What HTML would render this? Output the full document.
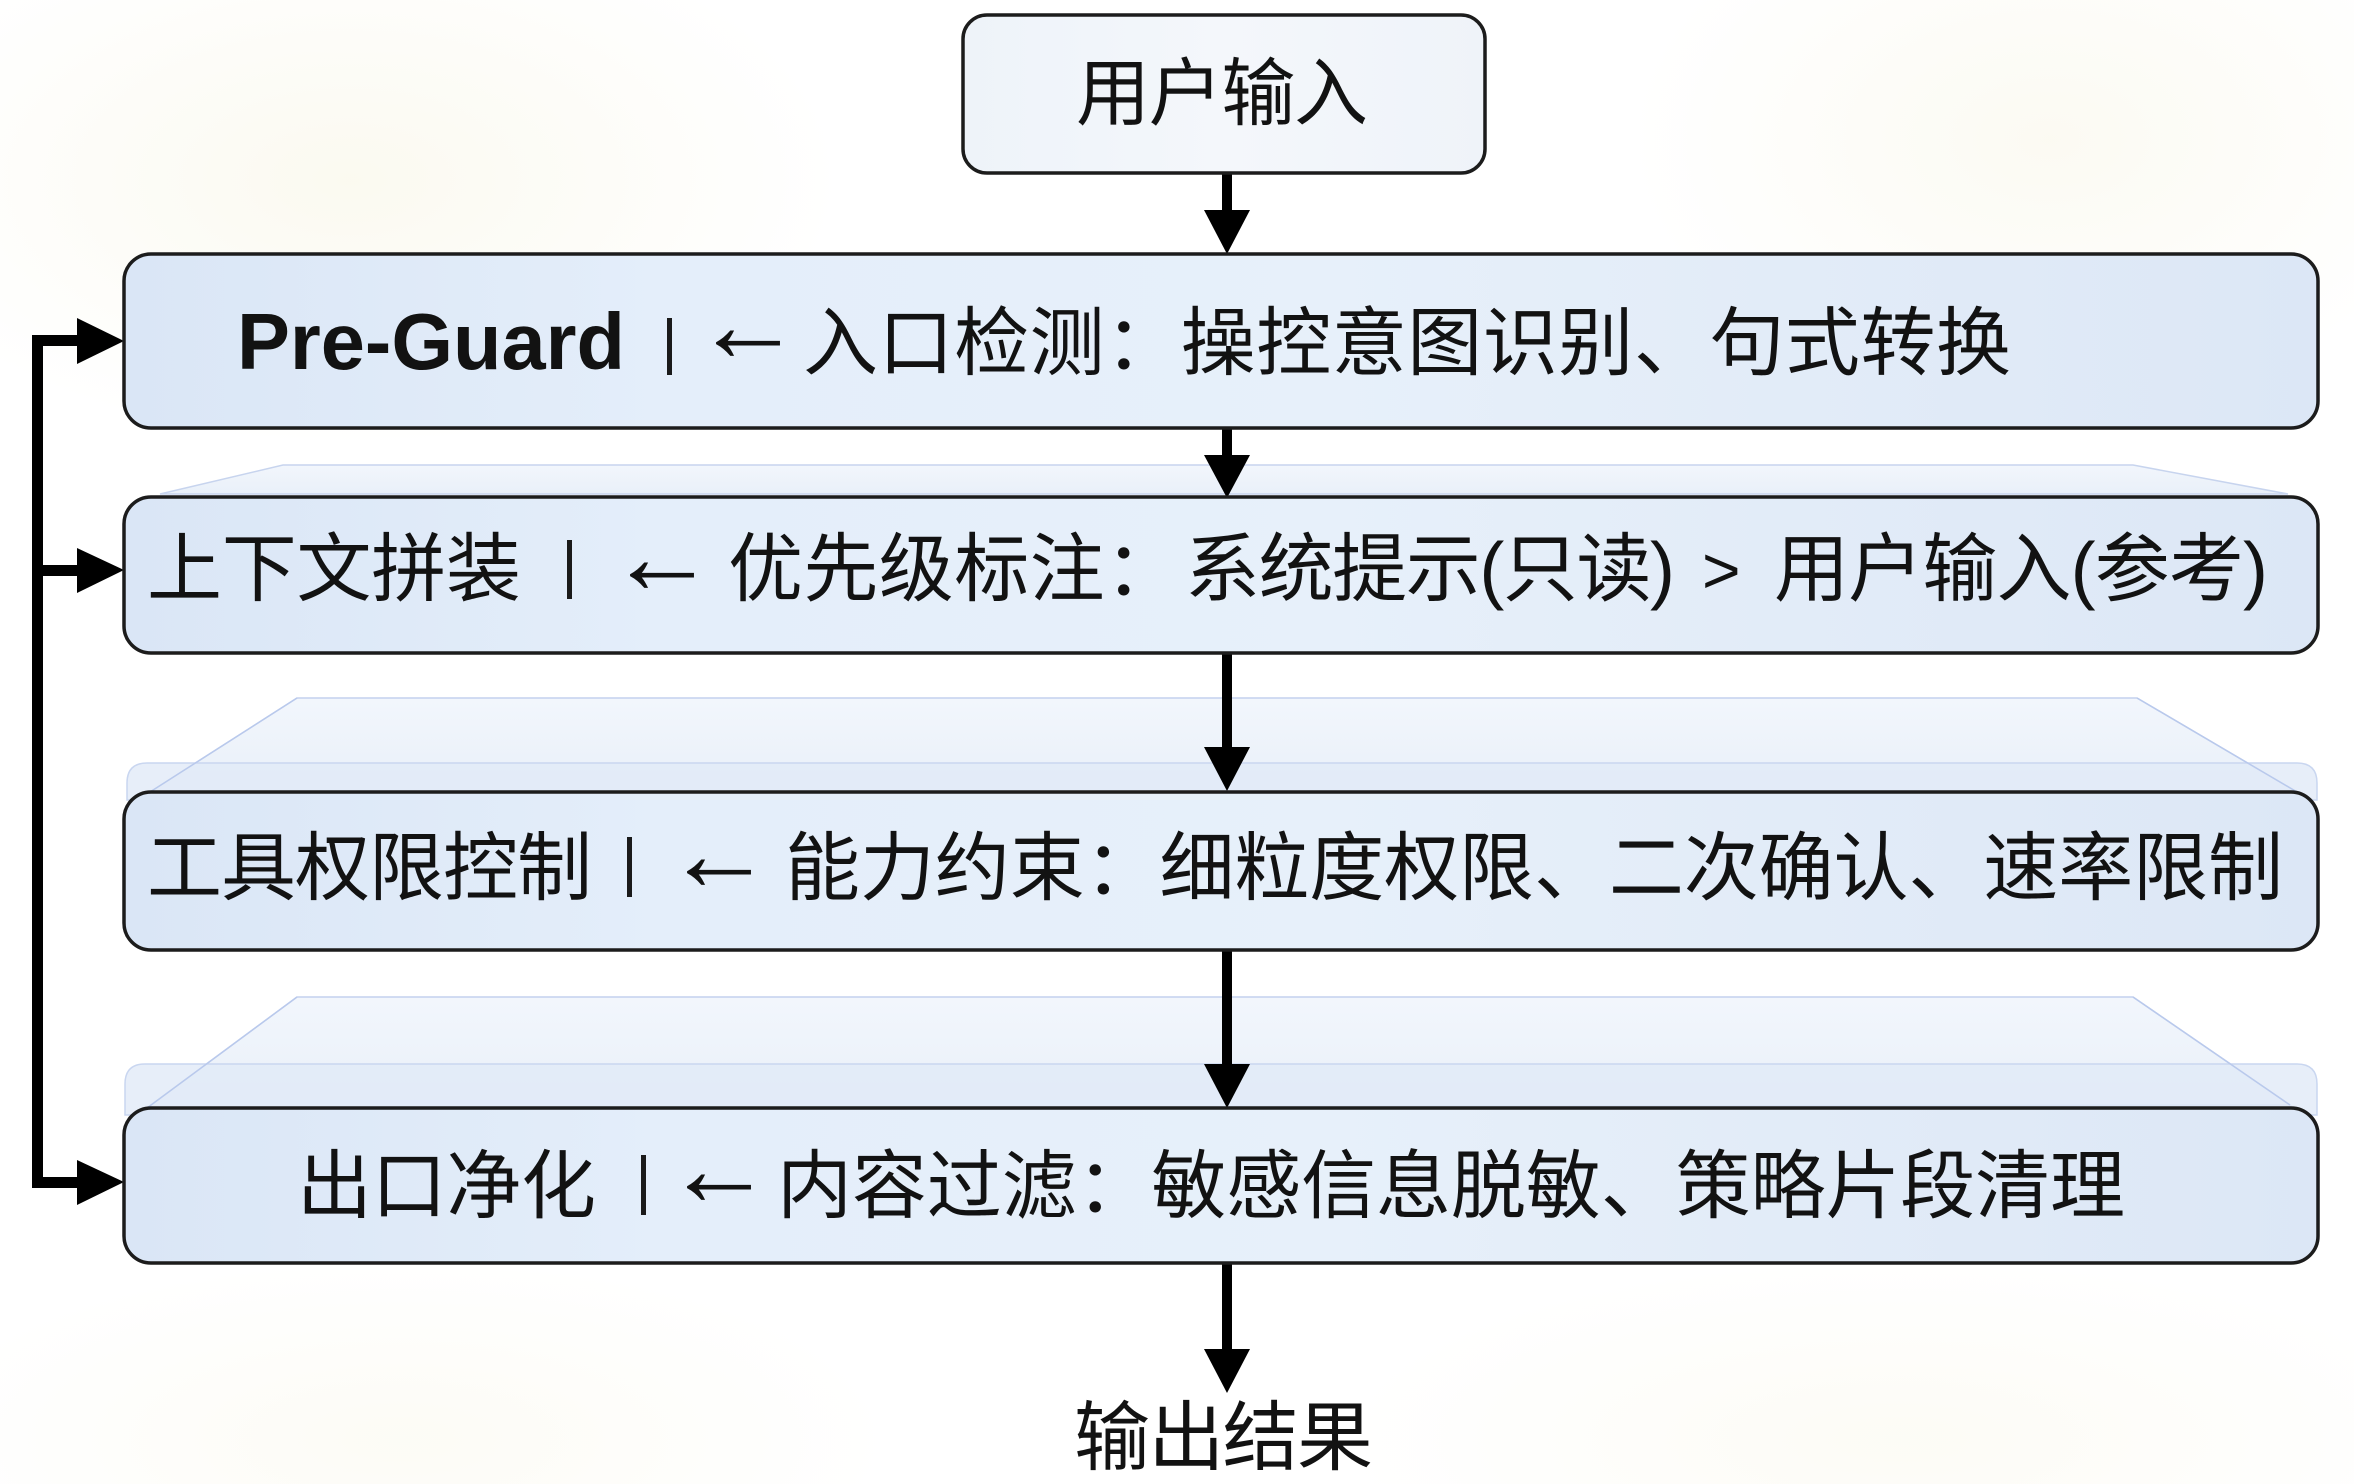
<!DOCTYPE html>
<html>
<head>
<meta charset="utf-8">
<style>
  html, body { margin:0; padding:0; }
  body {
    width:2354px; height:1484px; overflow:hidden;
    background:
      radial-gradient(ellipse 700px 380px at 350px 180px, rgba(249,247,234,0.7), rgba(255,255,255,0) 70%),
      radial-gradient(ellipse 600px 380px at 2050px 140px, rgba(249,247,234,0.6), rgba(255,255,255,0) 70%),
      radial-gradient(ellipse 700px 260px at 400px 1440px, rgba(250,248,236,0.5), rgba(255,255,255,0) 70%),
      radial-gradient(ellipse 800px 260px at 1900px 1440px, rgba(250,248,236,0.5), rgba(255,255,255,0) 70%),
      #ffffff;
  }
  svg { position:absolute; left:0; top:0; }
  text { font-family:"Liberation Sans","Noto Sans CJK SC",sans-serif; fill:#121212; }
  .arr { font-family:"Liberation Sans","DejaVu Sans","Noto Sans CJK SC",sans-serif; }
</style>
</head>
<body>
<svg width="2354" height="1484" viewBox="0 0 2354 1484" xmlns="http://www.w3.org/2000/svg">
  <defs>
    <linearGradient id="boxg" x1="0" y1="0" x2="1" y2="0">
      <stop offset="0" stop-color="#dae6f6"/>
      <stop offset="0.25" stop-color="#e4eefa"/>
      <stop offset="0.55" stop-color="#e7f0fa"/>
      <stop offset="0.85" stop-color="#e0eaf7"/>
      <stop offset="1" stop-color="#dce7f6"/>
    </linearGradient>
    <linearGradient id="topg" x1="0" y1="0" x2="1" y2="0">
      <stop offset="0" stop-color="#eef3f9"/>
      <stop offset="0.5" stop-color="#f4f7fb"/>
      <stop offset="1" stop-color="#eff3f9"/>
    </linearGradient>
    <linearGradient id="ghostg" x1="0" y1="0" x2="0" y2="1">
      <stop offset="0" stop-color="#f2f6fc"/>
      <stop offset="1" stop-color="#e9f0f9"/>
    </linearGradient>
  </defs>

  <!-- ghost layers -->
  <polygon points="160,494 283,465 2133,465 2288,494" fill="url(#ghostg)" stroke="#c7d4ee" stroke-width="1.5"/>

  <polygon points="150,792 297,698 2137,698 2297,792" fill="url(#ghostg)" stroke="#c3d1ee" stroke-width="1.5"/>
  <path d="M127,800 L127,783 Q127,763 147,763 L2297,763 Q2317,763 2317,783 L2317,800 Z" fill="#e1eaf8" fill-opacity="0.8" stroke="#c9d6f0" stroke-width="1.5"/>
  <line x1="150" y1="792" x2="297" y2="698" stroke="#b9c9ec" stroke-width="1.5"/>
  <line x1="2297" y1="792" x2="2137" y2="698" stroke="#b9c9ec" stroke-width="1.5"/>

  <polygon points="147,1108 297,997 2133,997 2290,1105" fill="url(#ghostg)" stroke="#c3d1ee" stroke-width="1.5"/>
  <path d="M125,1115 L125,1084 Q125,1064 145,1064 L2297,1064 Q2317,1064 2317,1084 L2317,1115 Z" fill="#e1eaf8" fill-opacity="0.8" stroke="#c9d6f0" stroke-width="1.5"/>
  <line x1="147" y1="1108" x2="297" y2="997" stroke="#b9c9ec" stroke-width="1.5"/>
  <line x1="2290" y1="1105" x2="2133" y2="997" stroke="#b9c9ec" stroke-width="1.5"/>

  <!-- vertical arrows -->
  <g fill="#000" stroke="none">
    <rect x="1222" y="172" width="10" height="42"/>
    <polygon points="1204,210 1250,210 1227,254"/>
    <rect x="1222" y="427" width="10" height="32"/>
    <polygon points="1204,455 1250,455 1227,498"/>
    <rect x="1222" y="652" width="10" height="100"/>
    <polygon points="1204,747 1250,747 1227,791"/>
    <rect x="1222" y="949" width="10" height="120"/>
    <polygon points="1204,1064 1250,1064 1227,1108"/>
    <rect x="1222" y="1262" width="10" height="92"/>
    <polygon points="1204,1349 1250,1349 1227,1393"/>
  </g>

  <!-- feedback connector -->
  <g fill="#000">
    <rect x="32" y="335" width="11" height="853"/>
    <rect x="32" y="335" width="52" height="11"/>
    <polygon points="77,318 124,341 77,364"/>
    <rect x="32" y="565" width="52" height="11"/>
    <polygon points="77,548 124,570 77,593"/>
    <rect x="32" y="1177" width="52" height="11"/>
    <polygon points="77,1160 124,1182 77,1205"/>
  </g>

  <!-- boxes -->
  <rect x="963" y="15" width="522" height="158" rx="24" ry="24" fill="url(#topg)" stroke="#1c1c1c" stroke-width="3.5"/>
  <rect x="124" y="254" width="2194" height="174" rx="27" ry="27" fill="url(#boxg)" stroke="#1c1c1c" stroke-width="3.5"/>
  <rect x="124" y="497" width="2194" height="156" rx="27" ry="27" fill="url(#boxg)" stroke="#1c1c1c" stroke-width="3.5"/>
  <rect x="124" y="792" width="2194" height="158" rx="27" ry="27" fill="url(#boxg)" stroke="#1c1c1c" stroke-width="3.5"/>
  <rect x="124" y="1108" width="2194" height="155" rx="27" ry="27" fill="url(#boxg)" stroke="#1c1c1c" stroke-width="3.5"/>

  <!-- separator bars -->
  <g fill="#1a1a1a">
    <rect x="667" y="318" width="5" height="57"/>
    <rect x="567" y="540" width="5" height="59"/>
    <rect x="627" y="837" width="5" height="60"/>
    <rect x="641" y="1155" width="5" height="60"/>
  </g>

  <!-- top text -->
  <text x="1076" y="119" font-size="74" textLength="292" lengthAdjust="spacing">用户输入</text>

  <!-- box 1 -->
  <text x="237" y="369" font-size="80" font-weight="bold" textLength="388" lengthAdjust="spacingAndGlyphs">Pre-Guard</text>
  <text class="arr" x="694" y="361" font-size="108">←</text>
  <text x="803" y="369" font-size="75" textLength="1208" lengthAdjust="spacing">入口检测：操控意图识别、句式转换</text>

  <!-- box 2 -->
  <text x="147" y="595" font-size="75" textLength="374" lengthAdjust="spacing">上下文拼装</text>
  <text class="arr" x="608" y="593" font-size="108">←</text>
  <text x="728" y="595" font-size="75" textLength="452" lengthAdjust="spacing">优先级标注：</text>
  <text x="1185" y="595" font-size="75" textLength="490" lengthAdjust="spacing">系统提示(只读)</text>
  <text x="1702" y="593" font-size="66">&gt;</text>
  <text x="1774" y="595" font-size="75" textLength="494" lengthAdjust="spacing">用户输入(参考)</text>

  <!-- box 3 -->
  <text x="147" y="894" font-size="75" textLength="445" lengthAdjust="spacing">工具权限控制</text>
  <text class="arr" x="665" y="890" font-size="108">←</text>
  <text x="785" y="894" font-size="75" textLength="1498" lengthAdjust="spacing">能力约束：细粒度权限、二次确认、速率限制</text>

  <!-- box 4 -->
  <text x="297" y="1212" font-size="75" textLength="299" lengthAdjust="spacing">出口净化</text>
  <text class="arr" x="665" y="1205" font-size="108">←</text>
  <text x="777" y="1212" font-size="75" textLength="1348" lengthAdjust="spacing">内容过滤：敏感信息脱敏、策略片段清理</text>

  <!-- output -->
  <text x="1074" y="1464" font-size="76" textLength="299" lengthAdjust="spacing">输出结果</text>
</svg>
</body>
</html>
